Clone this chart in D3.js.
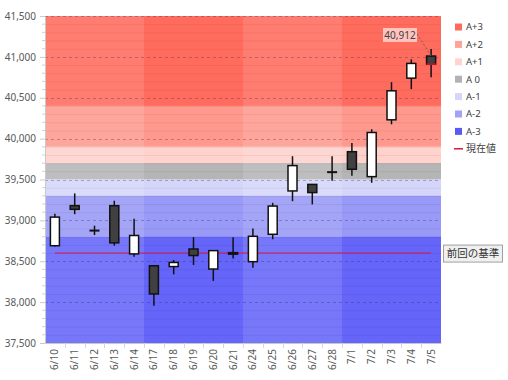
<!DOCTYPE html>
<html><head><meta charset="utf-8">
<script src="https://cdn.jsdelivr.net/npm/d3@7/dist/d3.min.js"></script>
<style>
body{margin:0;background:#fff;}
text{font-family:"Noto Sans","Noto Sans CJK JP",sans-serif;}
</style></head>
<body><svg id="c" width="508" height="380"></svg>
<script>
const dates = ["6/10","6/11","6/12","6/13","6/14","6/17","6/18","6/19","6/20","6/21","6/24","6/25","6/26","6/27","6/28","7/1","7/2","7/3","7/4","7/5"];
const openV  = [38690,39180,38875,39180,38590,38445,38435,38650,38405,38605,38495,38830,39360,39440,39590,39840,39535,40230,40740,41010];
const closeV = [39040,39135,38875,38725,38815,38100,38485,38570,38630,38590,38805,39175,39670,39340,39590,39625,40075,40585,40920,40912];
const highV  = [39080,39330,38935,39240,39020,38445,38515,38795,38630,38795,38900,39215,39785,39440,39785,39945,40115,40690,40970,41095];
const lowV   = [38680,39075,38820,38690,38555,37955,38340,38455,38260,38535,38420,38770,39235,39195,39485,39545,39460,40175,40605,40750];

const bandNames = ["A+3","A+2","A+1","A 0","A-1","A-2","A-3"];
const bandFrom  = [40400,39900,39700,39500,39300,38800,37500];
const bandTo    = [41500,40400,39900,39700,39500,39300,38800];
const bandColors = ["#ff5240","#ff887b","#ffcac3","#a8a8a8","#ceceF8","#8787f6","#4a4af8"];
const legendColors = ["#ff6a5c","#ffa298","#ffd3ce","#b2b2b2","#d6d6fa","#a2a2f6","#5a5af2"];
const shadedWeeks = [["6/17","6/21"],["7/1","7/5"]];
const yTicks = [37500,38000,38500,39000,39500,40000,40500,41000,41500];
const prevBase = 38600;
const prevBaseLabel = "前回の基準";
const currentLabel = "現在値";

const svg = d3.select("#c");
const L=45, R=441, T=16, B=343;
const x = d3.scaleBand().domain(dates).range([L,R]).padding(0);
const y = d3.scaleLinear().domain([37500,41500]).range([B,T]);
const bw = x.bandwidth();

// bands
const g = svg.append("g");
bandNames.forEach((n,i)=>{
  g.append("rect").attr("x",L).attr("width",R-L)
   .attr("y",y(bandTo[i])).attr("height",y(bandFrom[i])-y(bandTo[i]))
   .attr("fill",bandColors[i]).attr("fill-opacity",0.75);
  shadedWeeks.forEach(w=>{
    const x0 = x(w[0]), x1 = x(w[1])+bw;
    g.append("rect").attr("x",x0).attr("width",x1-x0)
     .attr("y",y(bandTo[i])).attr("height",y(bandFrom[i])-y(bandTo[i]))
     .attr("fill",bandColors[i]).attr("fill-opacity",0.4);
  });
});

// minor grid lines
const minor = d3.range(37600,41500,100).filter(v=>v%500!==0);
svg.append("g").selectAll("line").data(minor).join("line")
  .attr("x1",L).attr("x2",R).attr("y1",d=>y(d)+0.5).attr("y2",d=>y(d)+0.5)
  .attr("stroke","#000").attr("stroke-opacity",0.06);
// major dashed
svg.append("g").selectAll("line").data(yTicks.slice(1,-1).concat([41500])).join("line")
  .attr("x1",L).attr("x2",R).attr("y1",d=>Math.round(y(d))+0.5).attr("y2",d=>Math.round(y(d))+0.5)
  .attr("stroke","#303070").attr("stroke-opacity",0.35).attr("stroke-dasharray","3,3");

// y axis
const yAxis = d3.axisLeft(y).tickValues(yTicks).tickFormat(d3.format(",")).tickSize(5).tickPadding(4);
const ya = svg.append("g").attr("transform",`translate(${L},0)`).call(yAxis);
ya.select(".domain").attr("stroke","#c8c8c8");
ya.selectAll(".tick line").attr("stroke","#c8c8c8");
ya.selectAll("text").attr("fill","#595959").attr("font-size","10px");
svg.append("g").selectAll("line").data(minor).join("line")
  .attr("x1",L-3).attr("x2",L).attr("y1",d=>y(d)).attr("y2",d=>y(d)).attr("stroke","#d0d0d0");

// x axis
const xAxis = d3.axisBottom(x).tickSize(0).tickPadding(6);
const xa = svg.append("g").attr("transform",`translate(0,${B})`).call(xAxis);
xa.select(".domain").attr("stroke","#c8c8c8");
xa.selectAll("text").attr("fill","#595959").attr("font-size","10px")
  .attr("transform","rotate(-90)").attr("text-anchor","end")
  .attr("x",-6).attr("y",0).attr("dy","0.35em");
svg.append("g").selectAll("line").data(dates.slice(1)).join("line")
  .attr("x1",d=>Math.round(x(d))+0.5).attr("x2",d=>Math.round(x(d))+0.5)
  .attr("y1",B).attr("y2",B+5).attr("stroke","#d8d8d8");

// previous base line
svg.append("line").attr("x1",x(dates[0])+bw/2).attr("x2",x(dates[dates.length-1])+bw/2)
  .attr("y1",y(prevBase)).attr("y2",y(prevBase)).attr("stroke","#dc143c").attr("stroke-width",1);

// candles
const cw = 9;
const cg = svg.append("g");
dates.forEach((d,i)=>{
  const cx = x(d)+bw/2;
  cg.append("line").attr("x1",cx).attr("x2",cx).attr("y1",y(highV[i])).attr("y2",y(lowV[i]))
    .attr("stroke","#111").attr("stroke-width",1.5);
  const top = y(Math.max(openV[i],closeV[i])), bot = y(Math.min(openV[i],closeV[i]));
  if (openV[i]===closeV[i]) {
    cg.append("line").attr("x1",cx-cw/2-0.5).attr("x2",cx+cw/2+0.5).attr("y1",top).attr("y2",top)
      .attr("stroke","#111").attr("stroke-width",2);
  } else {
    cg.append("rect").attr("x",cx-cw/2).attr("width",cw).attr("y",top).attr("height",Math.max(bot-top,1.5))
      .attr("fill",closeV[i]>openV[i]?"#ffffff":"#404040").attr("stroke","#111").attr("stroke-width",1.5);
  }
});
// current value marker
const li = dates.length-1;
const lcx = x(dates[li])+bw/2;
svg.append("line").attr("x1",lcx-cw/2).attr("x2",lcx+cw/2).attr("y1",y(closeV[li])).attr("y2",y(closeV[li]))
  .attr("stroke","#dc143c").attr("stroke-width",1.5);

// value label
const lblX = 383, lblY = 28;
svg.append("line").attr("x1",lblX+34).attr("y1",lblY+6).attr("x2",lcx).attr("y2",y(openV[li]))
  .attr("stroke","#666").attr("stroke-dasharray","2,2").attr("stroke-width",1);
svg.append("rect").attr("x",lblX).attr("y",lblY).attr("width",34).attr("height",14)
  .attr("fill","#fff").attr("fill-opacity",0.6);
svg.append("text").attr("x",lblX+17).attr("y",lblY+7).attr("dy","0.35em").attr("text-anchor","middle")
  .attr("font-size","10px").attr("fill","#404040").text(d3.format(",")(closeV[li]));

// prev base box
svg.append("rect").attr("x",443.5).attr("y",y(prevBase)-8).attr("width",59).attr("height",17)
  .attr("fill","#f0f0f0").attr("stroke","#a0a0a0");
svg.append("text").attr("x",473).attr("y",y(prevBase)+0.5).attr("dy","0.35em").attr("text-anchor","middle")
  .attr("font-size","10.5px").attr("fill","#333").text(prevBaseLabel);

// legend
const lg = svg.append("g");
bandNames.forEach((n,i)=>{
  const yy = 27 + i*17.4;
  lg.append("rect").attr("x",455).attr("y",yy-3.5).attr("width",7).attr("height",7).attr("fill",legendColors[i]);
  lg.append("text").attr("x",466).attr("y",yy).attr("dy","0.35em").attr("font-size","9.5px").attr("fill","#404040").text(n);
});
const ly = 27 + 7*17.4;
lg.append("line").attr("x1",454).attr("x2",463).attr("y1",ly).attr("y2",ly).attr("stroke","#dc143c").attr("stroke-width",1.5);
lg.append("text").attr("x",466).attr("y",ly).attr("dy","0.35em").attr("font-size","10px").attr("fill","#404040").text(currentLabel);
</script></body></html>
